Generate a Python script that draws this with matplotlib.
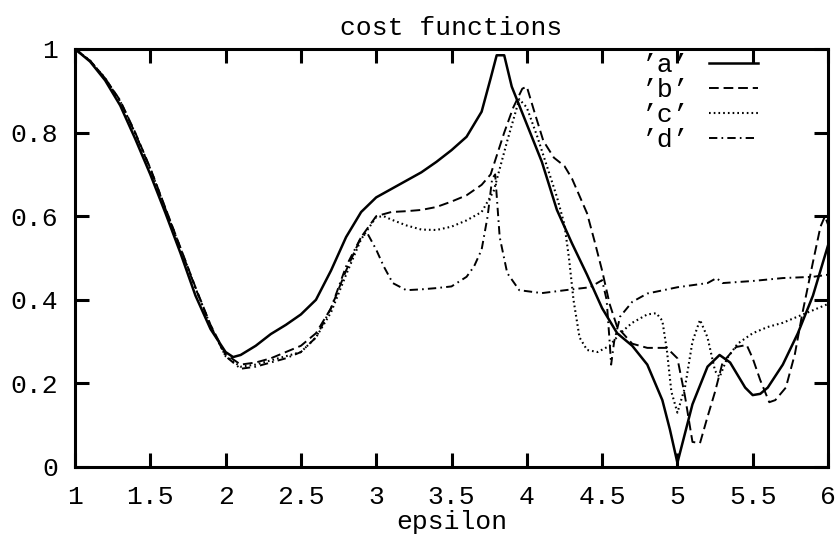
import matplotlib
matplotlib.use("Agg")
import matplotlib.pyplot as plt
import numpy as np

# cost curves
a_x = [1.0, 1.1, 1.2, 1.3, 1.4, 1.5, 1.6, 1.7, 1.8, 1.9, 2.0, 2.05, 2.1, 2.2, 2.3, 2.4,
       2.5, 2.6, 2.7, 2.8, 2.9, 3.0, 3.1, 3.2, 3.3, 3.4, 3.5, 3.6, 3.7, 3.76, 3.8, 3.85,
       3.9, 4.0, 4.1, 4.2, 4.3, 4.4, 4.5, 4.6, 4.7, 4.8, 4.9, 4.95, 5.0, 5.05, 5.1, 5.2,
       5.28, 5.35, 5.45, 5.5, 5.55, 5.6, 5.7, 5.8, 5.9, 6.0]
a_y = [1.0, 0.97, 0.925, 0.865, 0.785, 0.70, 0.608, 0.512, 0.41, 0.33, 0.275, 0.263, 0.268, 0.29, 0.318, 0.34,
       0.365, 0.40, 0.47, 0.55, 0.61, 0.645, 0.665, 0.685, 0.705, 0.73, 0.758, 0.79, 0.85, 0.93, 0.985, 0.985,
       0.91, 0.82, 0.73, 0.615, 0.535, 0.46, 0.38, 0.32, 0.29, 0.245, 0.16, 0.09, 0.01, 0.08, 0.15, 0.24,
       0.268, 0.25, 0.19, 0.172, 0.175, 0.19, 0.245, 0.32, 0.41, 0.53]

b_x = [1.0, 1.1, 1.2, 1.3, 1.4, 1.5, 1.6, 1.7, 1.8, 1.9, 2.0, 2.1, 2.2, 2.3, 2.4, 2.5,
       2.6, 2.7, 2.8, 2.9, 3.0, 3.1, 3.2, 3.3, 3.4, 3.5, 3.6, 3.7, 3.76, 3.85, 3.91, 3.97,
       4.0, 4.05, 4.11, 4.18, 4.25, 4.3, 4.4, 4.45, 4.5, 4.55, 4.6, 4.7, 4.8, 4.93, 5.0, 5.05,
       5.1, 5.15, 5.2, 5.25, 5.3, 5.39, 5.46, 5.5, 5.55, 5.61, 5.65, 5.72, 5.78, 5.83, 5.9, 5.95,
       5.98, 6.0]
b_y = [1.0, 0.972, 0.93, 0.877, 0.8, 0.715, 0.62, 0.525, 0.43, 0.34, 0.27, 0.245, 0.25, 0.26, 0.275, 0.29,
       0.32, 0.38, 0.47, 0.55, 0.60, 0.61, 0.612, 0.615, 0.622, 0.635, 0.65, 0.675, 0.70, 0.80, 0.86, 0.905,
       0.91, 0.85, 0.78, 0.74, 0.72, 0.69, 0.607, 0.54, 0.47, 0.39, 0.335, 0.295, 0.285, 0.285, 0.26, 0.17,
       0.06, 0.057, 0.12, 0.18, 0.25, 0.287, 0.292, 0.26, 0.208, 0.155, 0.16, 0.19, 0.27, 0.368, 0.49, 0.575,
       0.60, 0.58]

c_x = [1.0, 1.1, 1.2, 1.3, 1.4, 1.5, 1.6, 1.7, 1.8, 1.9, 2.0, 2.1, 2.2, 2.3, 2.4, 2.5,
       2.6, 2.7, 2.8, 2.9, 3.0, 3.05, 3.1, 3.2, 3.3, 3.4, 3.5, 3.6, 3.7, 3.78, 3.87, 3.95,
       4.0, 4.07, 4.2, 4.25, 4.28, 4.31, 4.35, 4.4, 4.47, 4.55, 4.62, 4.7, 4.8, 4.86, 4.9, 4.93,
       4.96, 5.0, 5.05, 5.1, 5.15, 5.2, 5.25, 5.28, 5.33, 5.4, 5.5, 5.6, 5.7, 5.8, 5.9, 6.0]
c_y = [1.0, 0.972, 0.93, 0.875, 0.798, 0.713, 0.618, 0.523, 0.428, 0.338, 0.265, 0.24, 0.245, 0.255, 0.265, 0.275,
       0.31, 0.37, 0.46, 0.545, 0.598, 0.60, 0.592, 0.578, 0.568, 0.567, 0.575, 0.59, 0.61, 0.66, 0.78, 0.88,
       0.86, 0.79, 0.646, 0.58, 0.50, 0.40, 0.31, 0.28, 0.275, 0.29, 0.32, 0.345, 0.365, 0.368, 0.35, 0.28,
       0.18, 0.13, 0.19, 0.30, 0.352, 0.31, 0.23, 0.215, 0.26, 0.295, 0.32, 0.335, 0.345, 0.36, 0.375, 0.39]

d_x = [1.0, 1.1, 1.2, 1.3, 1.4, 1.5, 1.6, 1.7, 1.8, 1.9, 2.0, 2.1, 2.2, 2.3, 2.4, 2.5,
       2.6, 2.7, 2.8, 2.9, 2.94, 3.0, 3.05, 3.11, 3.2, 3.3, 3.4, 3.5, 3.6, 3.65, 3.7, 3.74,
       3.77, 3.79, 3.82, 3.87, 3.95, 4.1, 4.3, 4.42, 4.5, 4.53, 4.55, 4.56, 4.58, 4.62, 4.7, 4.8,
       5.0, 5.2, 5.26, 5.3, 5.5, 5.7, 5.9, 6.0]
d_y = [1.0, 0.972, 0.93, 0.875, 0.798, 0.713, 0.618, 0.523, 0.428, 0.338, 0.265, 0.235, 0.24, 0.25, 0.26, 0.275,
       0.31, 0.38, 0.48, 0.55, 0.56, 0.52, 0.48, 0.44, 0.423, 0.425, 0.428, 0.432, 0.455, 0.48, 0.52, 0.60,
       0.69, 0.70, 0.55, 0.464, 0.423, 0.416, 0.425, 0.43, 0.447, 0.40, 0.30, 0.245, 0.30, 0.36, 0.395, 0.415,
       0.43, 0.44, 0.452, 0.44, 0.445, 0.452, 0.455, 0.46]

labels = ["\u2019a\u2019", "\u2019b\u2019", "\u2019c\u2019", "\u2019d\u2019"]
x_ticks = [1, 1.5, 2, 2.5, 3, 3.5, 4, 4.5, 5, 5.5, 6]
x_tick_labels = ["1", "1.5", "2", "2.5", "3", "3.5", "4", "4.5", "5", "5.5", "6"]
y_ticks = [0, 0.2, 0.4, 0.6, 0.8, 1]
y_tick_labels = ["0", "0.2", "0.4", "0.6", "0.8", "1"]

plt.rcParams['font.family'] = ['Liberation Mono', 'DejaVu Sans Mono']
plt.rcParams['lines.scale_dashes'] = False

fig = plt.figure(figsize=(8.38, 5.38), dpi=100)
ax = fig.add_axes([75 / 838, 1 - 467 / 538, 753 / 838, 418 / 538])

ax.plot(a_x, a_y, color="black", lw=1.8, label=labels[0])
ax.plot(b_x, b_y, color="black", lw=1.4, dashes=(7, 3.5), label=labels[1])
ax.plot(c_x, c_y, color="black", lw=1.5, dashes=(1.2, 2.2), label=labels[2])
ax.plot(d_x, d_y, color="black", lw=1.4, dashes=(6, 3, 1.2, 3), label=labels[3])

ax.set_xlim(1, 6)
ax.set_ylim(0, 1)
ax.set_xticks(x_ticks)
ax.set_xticklabels(x_tick_labels)
ax.set_yticks(y_ticks)
ax.set_yticklabels(y_tick_labels)
ax.xaxis.set_tick_params(which="major", direction="in", length=10, width=2.2,
                         labelsize=19, pad=13, top=True, bottom=True)
ax.yaxis.set_tick_params(which="major", direction="in", length=10, width=2.2,
                         labelsize=19, pad=12, left=True, right=True)
for s in ax.spines.values():
    s.set_linewidth(2.2)
    s.set_zorder(3)

ax.set_title("cost functions", fontsize=19, pad=10)
ax.set_xlabel("epsilon", fontsize=19, labelpad=1)

ax.legend(loc="upper right", bbox_to_anchor=(0.907, 0.99), frameon=False,
          markerfirst=False, fontsize=19, handlelength=1.85, handletextpad=0.75,
          labelspacing=0.04, borderpad=0, borderaxespad=0)

fig.savefig("out.png", dpi=100)
